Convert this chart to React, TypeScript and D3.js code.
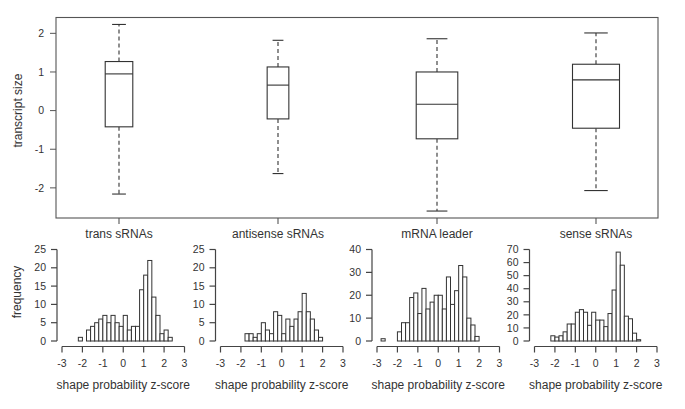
import React from "react";
import * as d3 from "d3";

// ---------- data ----------
const categories = ["trans sRNAs", "antisense sRNAs", "mRNA leader", "sense sRNAs"];
const whiskerLow = [-2.16, -1.63, -2.6, -2.07];
const quart1 = [-0.42, -0.215, -0.73, -0.456];
const medians = [0.95, 0.66, 0.166, 0.795];
const quart3 = [1.27, 1.13, 1.0, 1.2];
const whiskerHigh = [2.23, 1.82, 1.86, 2.01];
const boxYTicks = [-2, -1, 0, 1, 2];

const binWidth = 0.2;
const transCounts = [1, 0, 3, 4, 5, 6, 7, 5, 7, 5, 4, 7, 3, 4, 4, 14, 18, 22, 12, 7, 2, 3, 1];
const antisenseCounts = [2, 2, 1, 2, 5, 3, 2, 8, 7, 2, 6, 4, 6, 8, 13, 8, 6, 3, 1];
const leaderCounts = [1, 0, 0, 0, 4, 8, 8, 19, 21, 12, 23, 14, 17, 20, 20, 14, 28, 16, 22, 33, 28, 10, 7, 2];
const senseCounts = [4, 3, 4, 7, 13, 13, 22, 24, 22, 12, 22, 16, 16, 11, 21, 39, 68, 58, 19, 17, 6, 1];
const histCounts = [transCounts, antisenseCounts, leaderCounts, senseCounts];
const binStarts = [-2.2, -1.8, -2.8, -2.2];
const histYMax = [25, 25, 40, 70];
const histYStep = [5, 5, 10, 10];
const histXTicks = [-3, -2, -1, 0, 1, 2, 3];

// ---------- layout ----------
const W = 685;
const H = 409;
const FONT = "'Liberation Sans', Arial, Helvetica, sans-serif";
const TXT = "#333";
const LINE = "#333";
const frame = { left: 56, right: 658, top: 17.5, bottom: 218 };
const histLefts = [62, 220.5, 377, 534.5];
const histWidth = 122.5;
const histBase = 341;
const histTop = 249.5;
const histAxisY = 346.5;

export default function App() {
  const y = d3.scaleLinear().domain([-2.78, 2.41]).range([frame.bottom, frame.top]);
  const x = d3.scalePoint<string>().domain(categories).range([119, 596]);
  const sizes = histCounts.map((c) => d3.sum(c));
  const bw = d3.scaleSqrt().domain([0, d3.max(sizes) as number]).range([0, 47]);

  return (
    <svg width={W} height={H} style={{ position: "absolute", left: 0, top: 0, background: "#fff" }} fontFamily={FONT}>
      {/* top boxplot frame */}
      <rect x={frame.left} y={frame.top} width={frame.right - frame.left} height={frame.bottom - frame.top}
        fill="none" stroke="#555" strokeWidth={1.1} />
      {/* y axis */}
      {boxYTicks.map((t) => (
        <g key={t}>
          <line x1={frame.left - 6} x2={frame.left} y1={y(t)} y2={y(t)} stroke="#555" />
          <text x={frame.left - 12} y={y(t)} dy="0.35em" textAnchor="end" fontSize={10.5} fill={TXT}>{t}</text>
        </g>
      ))}
      <text transform={`translate(18,${y(0)}) rotate(-90)`} textAnchor="middle" dy="0.35em" fontSize={12} fill={TXT}>
        transcript size
      </text>
      {/* boxes */}
      {categories.map((c, i) => {
        const cx = x(c) as number;
        const w = bw(sizes[i]);
        const cap = w / 2;
        return (
          <g key={c} stroke={LINE} strokeWidth={1.1} fill="none">
            <line x1={cx} x2={cx} y1={y(quart3[i])} y2={y(whiskerHigh[i])} strokeDasharray="4,3" />
            <line x1={cx} x2={cx} y1={y(quart1[i])} y2={y(whiskerLow[i])} strokeDasharray="4,3" />
            <line x1={cx - cap / 2} x2={cx + cap / 2} y1={y(whiskerHigh[i])} y2={y(whiskerHigh[i])} />
            <line x1={cx - cap / 2} x2={cx + cap / 2} y1={y(whiskerLow[i])} y2={y(whiskerLow[i])} />
            <rect x={cx - w / 2} y={y(quart3[i])} width={w} height={y(quart1[i]) - y(quart3[i])} fill="#fff" />
            <line x1={cx - w / 2} x2={cx + w / 2} y1={y(medians[i])} y2={y(medians[i])} />
            <line x1={cx} x2={cx} y1={frame.bottom} y2={frame.bottom + 6} stroke="#555" />
            <text x={cx} y={frame.bottom + 20} textAnchor="middle" fontSize={12} fill={TXT} stroke="none">{c}</text>
          </g>
        );
      })}
      {/* histograms */}
      {histCounts.map((counts, i) => {
        const hx = d3.scaleLinear().domain([-3, 3]).range([histLefts[i], histLefts[i] + histWidth]);
        const hy = d3.scaleLinear().domain([0, histYMax[i]]).range([histBase, histTop]);
        const yTicks = d3.range(0, histYMax[i] + 0.001, histYStep[i]);
        const axX = histLefts[i] - 5;
        return (
          <g key={i}>
            {counts.map((n, k) => {
              const x0 = binStarts[i] + k * binWidth;
              return (
                <rect key={k} x={hx(x0)} y={hy(n)} width={hx(x0 + binWidth) - hx(x0)} height={hy(0) - hy(n)}
                  fill="#fff" stroke={LINE} strokeWidth={1} />
              );
            })}
            <line x1={hx(-3)} x2={hx(3)} y1={histAxisY} y2={histAxisY} stroke="#444" strokeWidth={1.2} />
            {histXTicks.map((t) => (
              <g key={t}>
                <line x1={hx(t)} x2={hx(t)} y1={histAxisY} y2={histAxisY + 6} stroke="#444" strokeWidth={1.2} />
                <text x={hx(t)} y={histAxisY + 20} textAnchor="middle" fontSize={10.5} fill={TXT}>{t}</text>
              </g>
            ))}
            <line x1={axX} x2={axX} y1={hy(0)} y2={hy(histYMax[i])} stroke="#444" strokeWidth={1.2} />
            {yTicks.map((t) => (
              <g key={t}>
                <line x1={axX - 6} x2={axX} y1={hy(t)} y2={hy(t)} stroke="#444" strokeWidth={1.2} />
                <text x={axX - 11} y={hy(t)} dy="0.35em" textAnchor="end" fontSize={10.5} fill={TXT}>{t}</text>
              </g>
            ))}
            <text x={hx(0)} y={389} textAnchor="middle" fontSize={12} fill={TXT}>shape probability z-score</text>
          </g>
        );
      })}
      <text transform={`translate(17,292) rotate(-90)`} textAnchor="middle" dy="0.35em" fontSize={12} fill={TXT}>
        frequency
      </text>
    </svg>
  );
}
